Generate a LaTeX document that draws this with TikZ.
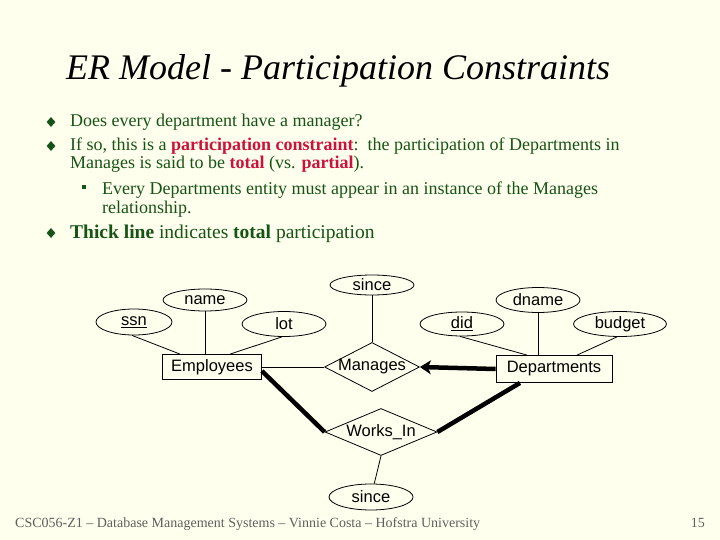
\documentclass[tikz,border=0pt]{standalone}
\usepackage{fontspec}
\setmainfont{Liberation Serif}
\newfontfamily\diagfont{Liberation Sans}
\usepackage{xcolor}
\usetikzlibrary{positioning,shapes.geometric,arrows.meta}

\definecolor{slidebg}{RGB}{255,255,238}
\definecolor{bodygreen}{RGB}{22,84,22}
\definecolor{hotred}{RGB}{204,18,58}
\definecolor{footgray}{RGB}{95,95,95}

\newcommand{\hot}[1]{\textcolor{hotred}{\textbf{#1}}}

\begin{document}
\begin{tikzpicture}[
    x=1pt, y=-1pt,
    attr/.style={
        draw,
        ellipse,
        line width=0.8pt,
        inner sep=0pt,
        minimum width=84pt,
        minimum height=24pt,
        font=\diagfont\fontsize{16.5}{16.5}\selectfont
    },
    entity/.style={
        draw,
        line width=0.8pt,
        inner sep=0pt,
        minimum height=25pt,
        font=\diagfont\fontsize{16.5}{16.5}\selectfont
    },
    rel/.style={
        draw,
        diamond,
        line width=0.8pt,
        inner sep=0pt,
        font=\diagfont\fontsize{16.5}{16.5}\selectfont
    },
    link/.style={line width=0.8pt},
    heavy/.style={line width=4.5pt},
    bodyline/.style={anchor=base west, inner sep=0pt, text=bodygreen,
        font=\fontsize{18}{18}\selectfont},
    bul/.style={diamond, fill=bodygreen, inner sep=0pt,
        minimum width=9pt, minimum height=10pt},
    subbul/.style={fill=bodygreen, inner sep=0pt, minimum size=4.5pt}
]

\fill[slidebg] (0,0) rectangle (720,540);
\useasboundingbox (0,0) rectangle (720,540);

% title and bullets
\node[anchor=base west, inner sep=0pt, font=\itshape\fontsize{36}{36}\selectfont]
    (title) at (66,80) {ER Model - Participation Constraints};

\node[bul] (b1) at (51,122) {};
\node[bodyline] (l1) at (70,127) {Does every department have a manager?};
\node[bul] (b2) at (51,146) {};
\node[bodyline] (l2) at (70,151)
    {If so, this is a \hot{participation constraint}:\ \ the participation of Departments in};
\node[bodyline] (l3) at (70,169) {Manages is said to be \hot{total} (vs. \hot{partial}).};
\node[subbul] (s1) at (84,187) {};
\node[bodyline] (l4) at (102,195)
    {Every Departments entity must appear in an instance of the Manages};
\node[bodyline] (l5) at (102,214) {relationship.};
\node[bul] (b3) at (51,233) {};
\node[bodyline, font=\fontsize{19.5}{19.5}\selectfont] (l6) at (70,238)
    {\textbf{Thick line} indicates \textbf{total} participation};

% er diagram
\node[entity, minimum width=99pt] (emp) at (212,367) {Employees};
\node[entity, minimum width=116pt, minimum height=27pt] (dept) at (554,369) {Departments};
\node[rel, minimum width=95pt, minimum height=49pt] (manages) at (372,367)
    {\makebox[0pt]{Manages}};
\node[rel, minimum width=112pt, minimum height=47pt] (worksin) at (381,432)
    {\makebox[0pt]{Works\_In}};

\node[attr, minimum width=76pt, minimum height=26pt] (ssn) at (134,322) {\underline{ssn}};
\node[attr, minimum height=22pt] (name) at (205,300) {name};
\node[attr, minimum height=25pt] (lot) at (284,324) {lot};
\node[attr, minimum height=20pt] (since1) at (372,285) {since};
\node[attr] (did) at (462,324) {\underline{did}};
\node[attr, minimum height=25pt] (dname) at (538,300) {dname};
\node[attr, minimum width=93pt, minimum height=25pt] (budget) at (620,324) {budget};
\node[attr, minimum height=26pt] (since2) at (371,497) {since};

\draw[link] (ssn.south) ++(-2,0) -- ([xshift=-32pt]emp.north);
\draw[link] (name) -- (emp.north -| name);
\draw[link] ([xshift=-2pt]lot.south) -- ([xshift=18pt]emp.north);
\draw[link] (since1) -- (manages.north);
\draw[link] (emp.east) -- (manages.west);
\draw[link] ([xshift=-2pt]did.south) -- ([xshift=-27pt]dept.north);
\draw[link] (dname) -- (dept.north -| dname);
\draw[link] ([xshift=-3pt]budget.south) -- ([xshift=23pt]dept.north);
\draw[link] (worksin.south) -- (since2);

% thick lines = total participation
\draw[heavy, -{Stealth[length=11pt, width=14pt, inset=3pt]}] (dept.west) -- (manages.east);
\draw[heavy] ([yshift=-4pt]emp.east) -- (worksin.west);
\draw[heavy] ([xshift=-34pt]dept.south) -- (worksin.east);

\node[anchor=base west, inner sep=0pt, text=footgray, font=\fontsize{14}{14}\selectfont]
    (foot) at (15,527)
    {CSC056-Z1 -- Database Management Systems -- Vinnie Costa -- Hofstra University};
\node[anchor=base east, inner sep=0pt, text=footgray, font=\fontsize{14}{14}\selectfont]
    (pageno) at (705,527) {15};

\end{tikzpicture}
\end{document}
